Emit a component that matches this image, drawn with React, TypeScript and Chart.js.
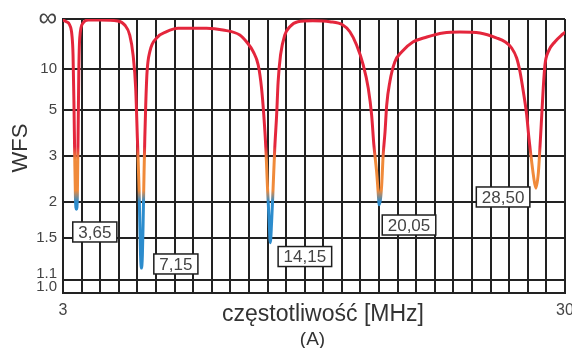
import React, { useEffect, useRef } from 'react';
import { Chart, registerables } from 'chart.js';

Chart.register(...registerables);

// ---- data ----
const freqMHz = [
  3.0, 3.18, 3.36, 3.48, 3.54, 3.59, 3.63, 3.67, 3.72, 3.77, 3.81, 3.85, 3.9, 4.08, 4.35,
  4.98, 5.94, 6.32, 6.59, 6.77, 6.91, 7.0, 7.09, 7.13, 7.17, 7.22, 7.27, 7.31, 7.36, 7.4, 7.45, 7.52, 7.67, 8.03, 8.57, 9.19,
  10.72, 11.6, 12.51, 12.87, 13.23, 13.5, 13.68, 13.8, 13.91, 14.0, 14.09, 14.15, 14.22, 14.3, 14.39, 14.49, 14.57, 14.7, 14.93, 15.2, 15.63,
  16.44, 17.35, 18.05, 18.43, 18.79, 19.15, 19.42, 19.6, 19.72, 19.87, 19.95, 20.01, 20.14, 20.22, 20.32, 20.41, 20.58, 20.85, 21.21, 21.82,
  22.57, 23.44, 24.35, 25.43, 26.34, 26.77, 27.13, 27.4, 27.58, 27.76, 27.94, 28.06, 28.21, 28.3, 28.43, 28.57, 28.66, 28.75, 28.83, 28.92,
  29.1, 29.46, 29.82, 30.0,
];
const wfs = [
  550, 200, 90, 33, 14.2, 5.4, 3.0, 2.06, 1.88, 2.06, 3.6, 9.3, 27.8, 136, 550,
  550, 273, 90, 33, 14.2, 6.9, 3.6, 2.24, 1.7, 1.32, 1.2, 1.32, 1.7, 2.58, 3.6, 5.4, 9.3, 15.8, 27.8, 42.2, 57.9,
  58, 48.8, 33.3, 23.1, 15.8, 10.9, 6.9, 4.7, 3.25, 2.24, 1.7, 1.45, 1.7, 2.24, 3.25, 4.7, 7.7, 14.2, 33.3, 70, 200,
  320, 200, 90, 42, 20.1, 10.9, 6.9, 4.7, 3.35, 2.58, 2.17, 1.95, 2.3, 3.03, 3.85, 5.37, 7.74, 11.8, 15.6, 22.8,
  29.4, 38.1, 41.2, 38.1, 27.8, 23.1, 17.9, 13.05, 9.4, 6.54, 4.71, 3.6, 2.83, 2.51, 2.24, 2.58, 3.35, 4.71, 6.94, 10.9,
  15.8, 23.1, 33.3, 40,
];
const yTickWfs = [1.0, 1.1, 1.5, 2, 3, 5, 10, Infinity];
const yTickLabels = ['1.0', '1.1', '1.5', '2', '3', '5', '10', '∞'];
const xTickLabelsShown = [3, 30];
const resonanceLabels = ['3,65', '7,15', '14,15', '20,05', '28,50'];

// ---- layout: where each label box sits (MHz, WFS) ----
const labelBoxFreq = [4.71, 9.07, 16.01, 21.61, 26.67];
const labelBoxWfs = [1.573, 1.237, 1.307, 1.66, 2.079];

const FONT = '"Liberation Sans", Arial, Helvetica, sans-serif';
const RED = '#e4263c';
const ORANGE = '#f08a3a';
const BLUE = '#2c8ccd';
const GRID = '#222222';
const TICK = '#444444';

const gamma = (s: number) => (isFinite(s) ? (s - 1) / (s + 1) : 1);

const lineGradient = (c: any) => {
  const chart = c.chart;
  const { chartArea, scales } = chart;
  if (!chartArea) return RED;
  const y = scales.y;
  const top = y.getPixelForValue(1);
  const bottom = y.getPixelForValue(0);
  const g = chart.ctx.createLinearGradient(0, top, 0, bottom);
  const stop = (s: number) => 1 - gamma(s);
  g.addColorStop(0, RED);
  g.addColorStop(stop(3.3), RED);
  g.addColorStop(stop(2.9), ORANGE);
  g.addColorStop(stop(2.2), ORANGE);
  g.addColorStop(stop(2.0), BLUE);
  g.addColorStop(1, BLUE);
  return g;
};

const annotate = {
  id: 'annotate',
  afterDatasetsDraw(chart: any) {
    const { ctx, chartArea, scales } = chart;
    const x = scales.x;
    const y = scales.y;
    ctx.save();
    ctx.font = `17px ${FONT}`;
    resonanceLabels.forEach((t, i) => {
      const cx = x.getPixelForValue(labelBoxFreq[i]);
      const cy = y.getPixelForValue(gamma(labelBoxWfs[i]));
      const w = ctx.measureText(t).width + 11;
      const h = 20;
      ctx.fillStyle = '#ffffff';
      ctx.fillRect(cx - w / 2, cy - h / 2, w, h);
      ctx.strokeStyle = '#1e1e1e';
      ctx.lineWidth = 1.5;
      ctx.strokeRect(cx - w / 2, cy - h / 2, w, h);
      ctx.fillStyle = '#444444';
      ctx.textAlign = 'center';
      ctx.textBaseline = 'middle';
      ctx.fillText(t, cx, cy + 1);
    });
    // axis titles
    const mid = (chartArea.left + chartArea.right) / 2;
    ctx.fillStyle = '#333333';
    ctx.textAlign = 'center';
    ctx.textBaseline = 'alphabetic';
    ctx.font = `23px ${FONT}`;
    ctx.fillText('częstotliwość [MHz]', mid + 9, chartArea.bottom + 28);
    ctx.font = `19px ${FONT}`;
    ctx.fillText('(A)', mid - 1.5, chartArea.bottom + 52);
    ctx.save();
    ctx.translate(21, 148);
    ctx.rotate(-Math.PI / 2);
    ctx.font = `22px ${FONT}`;
    ctx.textBaseline = 'middle';
    ctx.fillText('WFS', 0, 0);
    ctx.restore();
    ctx.restore();
  },
};

export default function App() {
  const canvasRef = useRef<HTMLCanvasElement | null>(null);

  useEffect(() => {
    if (!canvasRef.current) return;
    const points = freqMHz.map((f, i) => ({ x: f, y: gamma(wfs[i]) }));
    const chart = new Chart(canvasRef.current, {
      type: 'line',
      data: {
        datasets: [
          {
            data: points,
            borderColor: lineGradient as any,
            borderWidth: 3,
            pointRadius: 0,
            fill: false,
            cubicInterpolationMode: 'monotone',
            borderCapStyle: 'round',
            borderJoinStyle: 'round',
          },
        ],
      },
      options: {
        responsive: false,
        animation: false,
        layout: { padding: { top: 19, right: 7, left: 0, bottom: 0 } },
        plugins: { legend: { display: false }, tooltip: { enabled: false } },
        scales: {
          x: {
            type: 'linear',
            min: 3,
            max: 30,
            ticks: {
              stepSize: 1,
              autoSkip: false,
              maxRotation: 0,
              padding: 8,
              color: TICK,
              font: { size: 16, family: FONT },
              callback: (v: any) => (xTickLabelsShown.includes(Number(v)) ? String(v) : ''),
            },
            grid: { color: GRID, lineWidth: 2, drawTicks: false },
            border: { color: GRID, width: 2 },
            afterFit: (s: any) => {
              s.height = 55;
              s.paddingLeft = 0;
              s.paddingRight = 0;
            },
          },
          y: {
            type: 'linear',
            min: 0,
            max: 1,
            afterBuildTicks: (s: any) => {
              s.ticks = yTickWfs.map((v) => ({ value: gamma(v) }));
            },
            ticks: {
              autoSkip: false,
              padding: 6,
              color: TICK,
              font: (c: any) => ({
                size: c.index === yTickLabels.length - 1 ? 26 : 15,
                family: FONT,
                lineHeight: 0.8,
              }),
              callback: (_v: any, i: number) => (i <= 1 ? [yTickLabels[i], ''] : yTickLabels[i]),
            },
            grid: { color: GRID, lineWidth: 2, drawTicks: false },
            border: { color: GRID, width: 2 },
            afterFit: (s: any) => {
              s.width = 63;
              s.paddingTop = 0;
              s.paddingBottom = 0;
            },
          },
        },
      },
      plugins: [annotate],
    });
    return () => chart.destroy();
  }, []);

  return (
    <div style={{ position: 'absolute', left: 0, top: 0, width: 572, height: 348, background: '#fff' }}>
      <canvas ref={canvasRef} width={572} height={348} style={{ display: 'block' }} />
    </div>
  );
}
